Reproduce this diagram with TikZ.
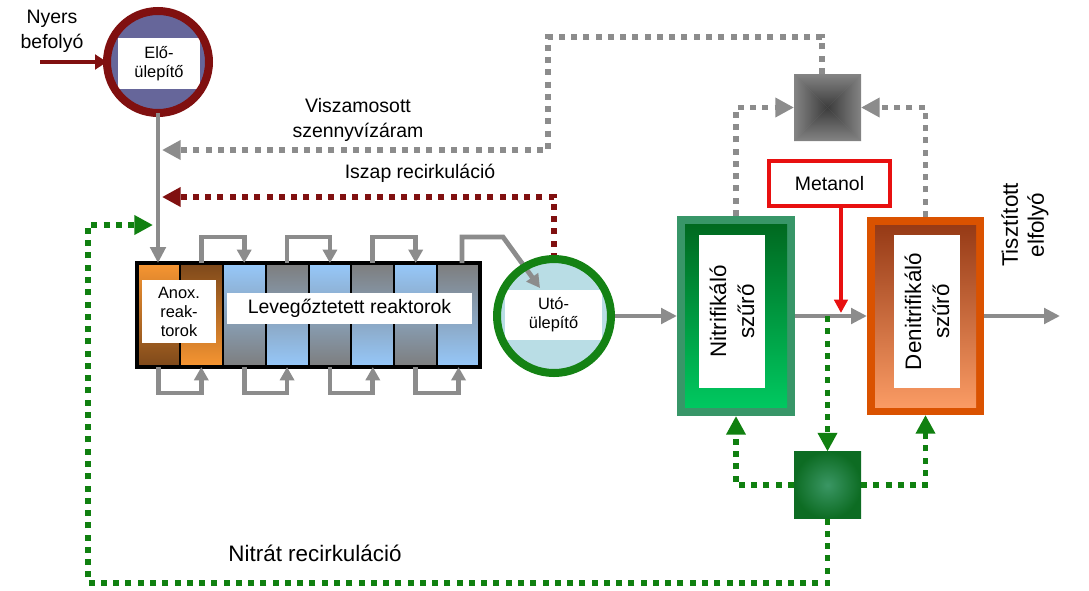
\documentclass[tikz,border=0pt]{standalone}
\usepackage{fontspec}
\setmainfont{Liberation Sans}
\usetikzlibrary{arrows.meta,calc}
\definecolor{dred}{RGB}{128,16,16}
\definecolor{lgray}{RGB}{140,140,140}
\definecolor{dgreen}{RGB}{16,128,16}
\definecolor{slate}{RGB}{102,102,154}
\definecolor{cblue}{RGB}{150,200,250}
\definecolor{cgray}{RGB}{125,125,125}
\definecolor{corange}{RGB}{247,150,50}
\definecolor{cbrown}{RGB}{125,72,26}
\definecolor{clar}{RGB}{185,221,229}
\definecolor{rgreen}{RGB}{20,130,20}
\definecolor{nout}{RGB}{56,150,104}
\definecolor{ntop}{RGB}{0,105,32}
\definecolor{nbot}{RGB}{0,200,96}
\definecolor{dout}{RGB}{218,82,0}
\definecolor{dtop}{RGB}{150,58,22}
\definecolor{dbot}{RGB}{250,155,100}
\definecolor{mred}{RGB}{232,16,16}
\definecolor{sqgray}{RGB}{132,132,132}
\definecolor{sqdark}{RGB}{60,60,60}
\definecolor{sqgin}{RGB}{58,150,100}
\definecolor{sqgout}{RGB}{13,108,35}
\begin{document}
\begin{tikzpicture}[x=0.75pt,y=-0.75pt,
  every node/.style={outer sep=0pt, inner sep=0pt},
  lbl/.style={font=\fontsize{14.6}{18.5}\selectfont, align=center},
  smalll/.style={font=\fontsize{12.3}{14.3}\selectfont, align=center},
  bigl/.style={font=\fontsize{16.8}{21}\selectfont, align=center},
  wbox/.style={fill=white},
  cell/.style={draw=black, line width=1.5pt, minimum width=42.875*0.75pt, minimum height=104*0.75pt},
  gflow/.style={draw=lgray, line width=3.6pt, -{Triangle[length=12pt,width=11.5pt]}},
  loopar/.style={draw=lgray, line width=3.6pt, -{Triangle[length=10pt,width=10.5pt]}},
  dflow/.style={draw=dred, line width=3.2pt, -{Triangle[length=9pt,width=11pt]}},
  rflow/.style={draw=mred, line width=3pt, -{Triangle[length=10pt,width=10pt]}},
  dotsbase/.style={line width=4.4pt, dash pattern=on 4.5pt off 4.7pt, -{Triangle[length=14pt,width=14pt]}},
  gdots/.style={dotsbase, draw=lgray},
  rdots/.style={dotsbase, draw=dred},
  grdots/.style={dotsbase, draw=dgreen},
]
\useasboundingbox (0,0) rectangle (1089,590);

% free ends and corners
\coordinate (src) at (40,62);
\coordinate (j1) at (162,150);
\coordinate (j4) at (162,197);
\coordinate (j2) at (153,225);
\coordinate (cbl) at (88,583);
\coordinate (t1) at (548,37);
\coordinate (uin) at (540,288);
\coordinate (out) at (1060,316);

% reactor cells
\foreach \i/\tc/\bc in {1/corange/cbrown,2/cbrown/corange,3/cblue/cgray,4/cgray/cblue,5/cblue/cgray,6/cgray/cblue,7/cblue/cgray,8/cgray/cblue}
  \node[cell, top color=\tc, bottom color=\bc] (c\i) at ({137+42.875*(\i-0.5)},315) {};
\node[draw=black, line width=2.4pt, minimum width=343*0.75pt, minimum height=104*0.75pt] (reac) at (308.5,315) {};
\node[wbox, smalll, minimum width=74*0.75pt, minimum height=63*0.75pt] (anox) at (179,311.5) {Anox.\\reak-\\torok};
\node[wbox, lbl, minimum width=245*0.75pt, minimum height=31*0.75pt] (lev) at (349.5,308.5) {Levegőztetett reaktorok};

% primary clarifier
\node[circle, fill=slate, minimum size=102*0.75pt] (pre) at (158,62) {};
\node[wbox, smalll, minimum width=82*0.75pt, minimum height=51*0.75pt] (prel) at (159,63.5) {Elő-\\ülepítő};
\draw[dred, line width=6pt] (pre.center) circle (51);

% secondary clarifier
\node[circle, fill=clar, minimum size=114*0.75pt] (uto) at (554,316) {};
\node[wbox, smalll, minimum width=97*0.75pt, minimum height=50*0.75pt] (utol) at (553.5,315) {Utó-\\ülepítő};

% nitrifying filter
\node[fill=nout, minimum width=118*0.75pt, minimum height=200*0.75pt] (nit) at (736,316) {};
\shade[top color=ntop, bottom color=nbot] (685,224) rectangle (787,407);
\node[wbox, bigl, rotate=90, minimum width=153*0.75pt, minimum height=66*0.75pt] (nitl) at (732,311.5) {Nitrifikáló\\szűrő};

% denitrifying filter
\node[fill=dout, minimum width=117*0.75pt, minimum height=198*0.75pt] (den) at (925.5,316) {};
\shade[top color=dtop, bottom color=dbot] (875,225) rectangle (976,407);
\node[wbox, bigl, rotate=90, minimum width=153*0.75pt, minimum height=66*0.75pt] (denl) at (927,311.5) {Denitrifikáló\\szűrő};

% methanol
\node[lbl, draw=mred, line width=3pt, fill=white, minimum width=121*0.75pt, minimum height=45*0.75pt] (met) at (829.5,183.5) {Metanol};

% gray square (pyramid)
\node[fill=sqgray, minimum size=67*0.75pt] (gsq) at (827.5,107.5) {};
\shade[top color=sqgray, bottom color=sqdark] (gsq.north west) -- (gsq.north east) -- (gsq.center) -- cycle;
\shade[bottom color=sqgray, top color=sqdark] (gsq.south west) -- (gsq.south east) -- (gsq.center) -- cycle;
\shade[left color=sqgray, right color=sqdark] (gsq.north west) -- (gsq.south west) -- (gsq.center) -- cycle;
\shade[right color=sqgray, left color=sqdark] (gsq.north east) -- (gsq.south east) -- (gsq.center) -- cycle;

% green square
\node[inner color=sqgin, outer color=sqgout, minimum size=67*0.75pt] (gsq2) at (827.5,485) {};

% labels
\node[lbl] (tnyers) at (52,31) {Nyers\\befolyó};
\node[lbl] (tvisz) at (358,120) {Viszamosott\\szennyvízáram};
\node[lbl] (tisz) at (420,173) {Iszap recirkuláció};
\node[bigl] (tnitr) at (315,553) {Nitrát recirkuláció};
\node[bigl, rotate=90, font=\fontsize{16.8}{19.5}\selectfont] (tout) at (1025,225) {Tisztított\\elfolyó};

% solid flows
\draw[dflow] (src) -- (pre.west);
\draw[gflow] (pre.south) -- (pre.south |- reac.north);
\draw[loopar] (c2.north) -- ++(0,-26) -| (c3.north);
\draw[loopar] (c4.north) -- ++(0,-26) -| (c5.north);
\draw[loopar] (c6.north) -- ++(0,-26) -| (c7.north);
\draw[loopar] (c1.south) -- ++(0,26) -| (c2.south);
\draw[loopar] (c3.south) -- ++(0,26) -| (c4.south);
\draw[loopar] (c5.south) -- ++(0,26) -| (c6.south);
\draw[loopar] (c7.south) -- ++(0,26) -| (c8.south);
\draw[loopar] ([xshift=2.6pt]c8.north) -- ++(0,-26) -- ++(41,0) -- (uin);
\draw[gflow] (uto.east) -- (nit.west);
\draw[gflow] (nit.east) -- (den.west);
\draw[gflow] (den.east) -- (out);
\draw[rflow] ([xshift=8.6pt]met.south) -- ++(0,107);

% dotted recirculations
\draw[gdots] (nit.north) |- (gsq.west);
\draw[gdots] (den.north) |- (gsq.east);
\draw[gdots] ([xshift=-4pt]gsq.north) |- (t1) -- (t1 |- j1) -- (j1);
\draw[rdots] (uto.north) |- (j4);
\draw[grdots] (gsq2.north |- nit.east) -- (gsq2.north);
\draw[grdots] (gsq2.west) -| (nit.south);
\draw[grdots] (gsq2.east) -| (den.south);
\draw[grdots] (gsq2.south) |- (cbl) |- (j2);

% ring of secondary clarifier on top
\draw[rgreen, line width=6pt] (uto.center) circle (57);
\end{tikzpicture}
\end{document}
